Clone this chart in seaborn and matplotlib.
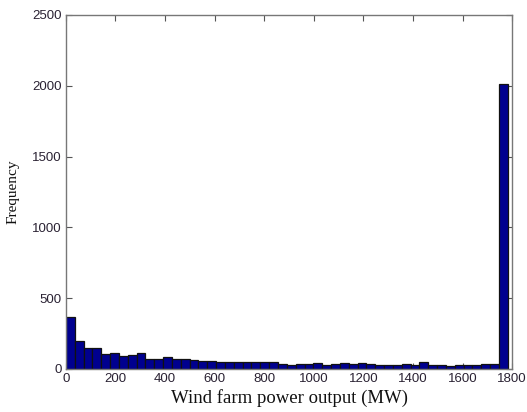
import numpy as np
import pandas as pd
import matplotlib
matplotlib.use("Agg")
import matplotlib.pyplot as plt
import seaborn as sns

# Histogram of wind farm output: 50 equal bins between the lowest and highest output
power_min = 0.0
power_max = 1782.0
n_bins = 50

frequency = [
    365, 195, 145, 145, 108, 115, 94, 101, 111, 72,
    72, 87, 73, 73, 64, 58, 58, 50, 50, 50,
    50, 50, 50, 50, 35, 26, 33, 35, 45, 28,
    35, 45, 35, 45, 33, 28, 28, 28, 35, 30,
    52, 30, 28, 20, 28, 28, 28, 37, 37, 2010,
]

x_ticks = [0, 200, 400, 600, 800, 1000, 1200, 1400, 1600, 1800]
y_ticks = [0, 500, 1000, 1500, 2000, 2500]

edges = np.linspace(power_min, power_max, n_bins + 1)
centers = 0.5 * (edges[:-1] + edges[1:])
df = pd.DataFrame({"power": centers, "count": frequency})

sns.set_style("ticks")
plt.rcParams["font.family"] = ["Liberation Sans", "DejaVu Sans"]

fig = plt.figure(figsize=(5.27, 4.12), dpi=100)
ax = fig.add_axes([0.125, 0.1044, 0.847, 0.8592])

sns.histplot(
    data=df, x="power", weights="count", bins=n_bins,
    binrange=(power_min, power_max),
    color="#00008f", edgecolor="#111111", linewidth=0.9, alpha=1.0, ax=ax,
)

ax.set_xlim(0, 1800)
ax.set_ylim(0, 2500)
ax.set_xticks(x_ticks)
ax.set_yticks(y_ticks)
ax.tick_params(axis="both", direction="in", length=4, width=0.8,
               color="#555555", labelsize=9.5, labelcolor="#2a2233",
               top=True, right=True, pad=3)

for side in ["left", "right", "top", "bottom"]:
    ax.spines[side].set_visible(True)
    ax.spines[side].set_color("#777777")
    ax.spines[side].set_linewidth(1.0)

serif = ["Liberation Serif", "DejaVu Serif"]
ax.set_xlabel("Wind farm power output (MW)", family=serif, fontsize=13.5,
              color="#111111", labelpad=3)
ax.set_ylabel("Frequency", family=serif, fontsize=11, color="#111111",
              labelpad=9)

fig.savefig("out.png", dpi=100)
